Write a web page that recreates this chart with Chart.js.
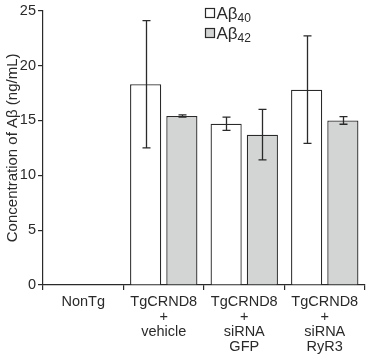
<!DOCTYPE html>
<html><head><meta charset="utf-8">
<script src="https://cdn.jsdelivr.net/npm/chart.js@4"></script>
<style>html,body{margin:0;padding:0;background:#fff}#w{width:367px;height:355px}</style>
</head><body><div id="w"><canvas id="c"></canvas></div>
<script>
const categories = [["NonTg"], ["TgCRND8", "+", "vehicle"], ["TgCRND8", "+", "siRNA", "GFP"], ["TgCRND8", "+", "siRNA", "RyR3"]];
const abeta40 = [0, 18.3, 14.7, 17.8];
const abeta40Err = [0, 5.8, 0.6, 4.9];
const abeta42 = [0, 15.4, 13.7, 15.0];
const abeta42Err = [0, 0.1, 2.3, 0.35];
const yTicks = [0, 5, 10, 15, 20, 25];
const seriesNames = [["Aβ", "40"], ["Aβ", "42"]];

const FONT = "'Liberation Sans', Arial, Helvetica, sans-serif";
const INK = '#2a2a2a';
const fills = ['#ffffff', '#d3d5d5'];

const errorBars = {
  id: 'errorBars',
  afterDatasetsDraw(chart) {
    const ctx = chart.ctx, ys = chart.scales.y;
    const errs = [abeta40Err, abeta42Err];
    const vals = [abeta40, abeta42];
    ctx.save();
    ctx.strokeStyle = INK; ctx.lineWidth = 1.3;
    chart.data.datasets.forEach((ds, di) => {
      chart.getDatasetMeta(di).data.forEach((el, i) => {
        const e = errs[di][i];
        if (!e) return;
        const hi = ys.getPixelForValue(vals[di][i] + e);
        const lo = ys.getPixelForValue(vals[di][i] - e);
        const x = Math.round(el.x) + 0.5, cw = 4;
        ctx.beginPath();
        ctx.moveTo(x, hi); ctx.lineTo(x, lo);
        ctx.moveTo(x - cw, hi); ctx.lineTo(x + cw, hi);
        ctx.moveTo(x - cw, lo); ctx.lineTo(x + cw, lo);
        ctx.stroke();
      });
    });
    ctx.restore();
  }
};

const legendPlugin = {
  id: 'customLegend',
  afterDraw(chart) {
    const ctx = chart.ctx;
    ctx.save();
    seriesNames.forEach((nm, i) => {
      const bx = 205.5, cy = 13 + i * 20;
      ctx.fillStyle = fills[i];
      ctx.fillRect(bx, cy - 4.5, 9, 9);
      ctx.strokeStyle = INK; ctx.lineWidth = 1.2;
      ctx.strokeRect(bx, cy - 4.5, 9, 9);
      ctx.fillStyle = INK;
      ctx.textBaseline = 'alphabetic';
      ctx.font = '17px ' + FONT;
      ctx.fillText(nm[0], 216.5, cy + 6);
      const w = ctx.measureText(nm[0]).width;
      ctx.font = '12px ' + FONT;
      ctx.fillText(nm[1], 216.5 + w, cy + 9);
    });
    ctx.restore();
  }
};

new Chart(document.getElementById('c'), {
  type: 'bar',
  data: {
    labels: categories,
    datasets: [
      { label: 'Aβ40', data: abeta40, backgroundColor: fills[0], borderColor: INK, borderWidth: 1.3, categoryPercentage: 0.9, barPercentage: 0.86 },
      { label: 'Aβ42', data: abeta42, backgroundColor: fills[1], borderColor: INK, borderWidth: 1.3, categoryPercentage: 0.9, barPercentage: 0.86 }
    ]
  },
  options: {
    responsive: true, maintainAspectRatio: false, animation: false,
    layout: { padding: { top: 8, right: 2, left: 0, bottom: 0 } },
    plugins: { legend: { display: false }, tooltip: { enabled: false } },
    scales: {
      x: {
        grid: { display: true, offset: true, drawOnChartArea: false, drawTicks: true, tickLength: 5, color: INK, lineWidth: 1.2 },
        border: { display: true, color: INK, width: 1.2 },
        ticks: { color: INK, font: { family: FONT, size: 14.5, lineHeight: '15.2px' }, maxRotation: 0, autoSkip: false, padding: 4 },
        afterFit(s) { s.height = 70; }
      },
      y: {
        min: 0, max: 25,
        afterBuildTicks(s) { s.ticks = yTicks.map(v => ({ value: v })); },
        grid: { display: true, drawOnChartArea: false, drawTicks: true, tickLength: 5, color: INK, lineWidth: 1.2 },
        border: { display: true, color: INK, width: 1.2 },
        ticks: { color: INK, font: { family: FONT, size: 14.5 }, padding: 2 },
        title: { display: true, text: 'Concentration of Aβ (ng/mL)', color: INK, font: { family: FONT, size: 15 }, padding: { top: 4, bottom: 0 } },
        afterFit(s) { s.width = 43; }
      }
    }
  },
  plugins: [errorBars, legendPlugin]
});
</script></body></html>
